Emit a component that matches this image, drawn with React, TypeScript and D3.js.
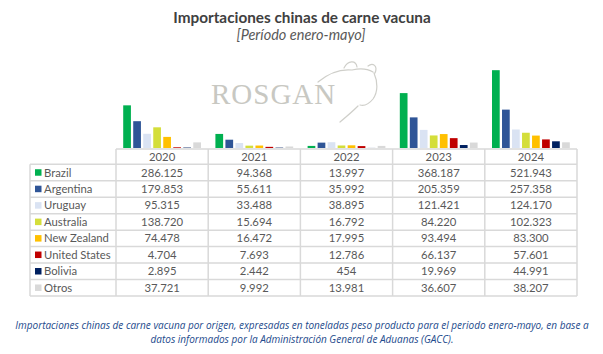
import React from 'react';
import * as d3 from 'd3';

const years = ['2020', '2021', '2022', '2023', '2024'];
const origins = ['Brazil', 'Argentina', 'Uruguay', 'Australia', 'New Zealand', 'United States', 'Bolivia', 'Otros'];
const colors = ['#00b050', '#2f5597', '#dae3f3', '#d4de3a', '#ffc000', '#c00000', '#002060', '#d9d9d9'];

// toneladas por origen, un array por año
const v2020 = [286.125, 179.853, 95.315, 138.72, 74.478, 4.704, 2.895, 37.721];
const v2021 = [94.368, 55.611, 33.488, 15.694, 16.472, 7.693, 2.442, 9.992];
const v2022 = [13.997, 35.992, 38.895, 16.792, 17.995, 12.786, 0.454, 13.981];
const v2023 = [368.187, 205.359, 121.421, 84.22, 93.494, 66.137, 19.969, 36.607];
const v2024 = [521.943, 257.358, 124.17, 102.323, 83.3, 57.601, 44.991, 38.207];

const cellText = [
  ['286.125', '94.368', '13.997', '368.187', '521.943'],
  ['179.853', '55.611', '35.992', '205.359', '257.358'],
  ['95.315', '33.488', '38.895', '121.421', '124.170'],
  ['138.720', '15.694', '16.792', '84.220', '102.323'],
  ['74.478', '16.472', '17.995', '93.494', '83.300'],
  ['4.704', '7.693', '12.786', '66.137', '57.601'],
  ['2.895', '2.442', '454', '19.969', '44.991'],
  ['37.721', '9.992', '13.981', '36.607', '38.207'],
];

const values = [v2020, v2021, v2022, v2023, v2024];

const W = 603;
const H = 354;

export default function App() {
  const x0 = d3.scaleBand().domain(years).range([116, 577]);
  const x1 = d3.scaleBand().domain(origins).range([0, x0.bandwidth()]).paddingInner(0.23).paddingOuter(0.72);
  const y = d3.scaleLinear().domain([0, 550]).range([148, 66]);

  const tableTop = 149;
  const headH = 15.3;
  const rowsTop = tableTop + headH;
  const rowY = d3.scaleBand().domain(origins).range([rowsTop, 296]);
  const grid = '#d9d9d9';
  const txt = '#595959';
  const font = 'Lato, "Open Sans", sans-serif';

  return (
    <svg width={W} height={H} style={{ position: 'absolute', left: 0, top: 0, background: '#fff' }}>
      <text x={302} y={23} textAnchor="middle" fontFamily={font} fontWeight="bold" fontSize={15.3} fill="#404040">
        Importaciones chinas de carne vacuna
      </text>
      <text x={301} y={40} textAnchor="middle" fontFamily={font} fontStyle="italic" fontSize={14.5} fill="#595959">
        [Período enero-mayo]
      </text>

      {/* watermark */}
      <g>
        <text x={211} y={104} fontFamily='"Liberation Serif", serif' fontSize={29} letterSpacing={1} fill="#c8c8c2">
          ROSGAN
        </text>
        <path
          d="M318,82 C330,72 342,69 352,70 M344,68 C348,60 356,60 357,67 M352,70 C360,68 368,69 373,72 M368,66 C373,62 378,66 375,73 M374,73 C378,82 378,92 373,99 C369,104 364,106 360,105 M358,106 C352,112 346,117 340,122"
          fill="none" stroke="#cfcfca" strokeWidth={1.2} strokeLinecap="round"
        />
      </g>

      {/* bars */}
      {years.map((yr, i) => (
        <g key={yr} transform={`translate(${x0(yr)},0)`}>
          {origins.map((o, j) => (
            <rect key={o} x={x1(o)} y={y(values[i][j])} width={x1.bandwidth()} height={148 - y(values[i][j])} fill={colors[j]} />
          ))}
        </g>
      ))}

      {/* data table */}
      <g fontFamily={font} fontSize={11.3} fill={txt}>
        <line x1={116} x2={577} y1={tableTop} y2={tableTop} stroke={grid} strokeWidth={1.5} />
        <line x1={30} x2={577} y1={296} y2={296} stroke={grid} strokeWidth={1.5} />
        {origins.map((o) => (
          <line key={o} x1={30} x2={577} y1={rowY(o)} y2={rowY(o)} stroke={grid} strokeWidth={1.5} />
        ))}
        <line x1={30} x2={30} y1={rowsTop} y2={296} stroke={grid} strokeWidth={1.5} />
        {years.map((yr) => (
          <line key={yr} x1={x0(yr)} x2={x0(yr)} y1={tableTop} y2={296} stroke={grid} strokeWidth={1.5} />
        ))}
        <line x1={577} x2={577} y1={tableTop} y2={296} stroke={grid} strokeWidth={1.5} />
        {years.map((yr) => (
          <text key={yr} x={x0(yr) + x0.bandwidth() / 2} y={tableTop + headH / 2 + 4} textAnchor="middle">{yr}</text>
        ))}
        {origins.map((o, j) => {
          const cy = rowY(o) + rowY.bandwidth() / 2;
          return (
            <g key={o}>
              <rect x={35} y={cy - 3.3} width={6.5} height={6.5} fill={colors[j]} />
              <text x={44} y={cy + 4}>{o}</text>
              {years.map((yr, i) => (
                <text key={yr} x={x0(yr) + x0.bandwidth() / 2} y={cy + 4} textAnchor="middle">{cellText[j][i]}</text>
              ))}
            </g>
          );
        })}
      </g>

      <g fontFamily='"Open Sans", sans-serif' fontStyle="italic" fontSize={10} fill="#234a8c" textAnchor="middle">
        <text x={302} y={329}>
          Importaciones chinas de carne vacuna por origen, expresadas en toneladas peso producto para el periodo enero-mayo, en base a
        </text>
        <text x={302} y={343}>datos informados por la Administración General de Aduanas (GACC).</text>
      </g>
    </svg>
  );
}
